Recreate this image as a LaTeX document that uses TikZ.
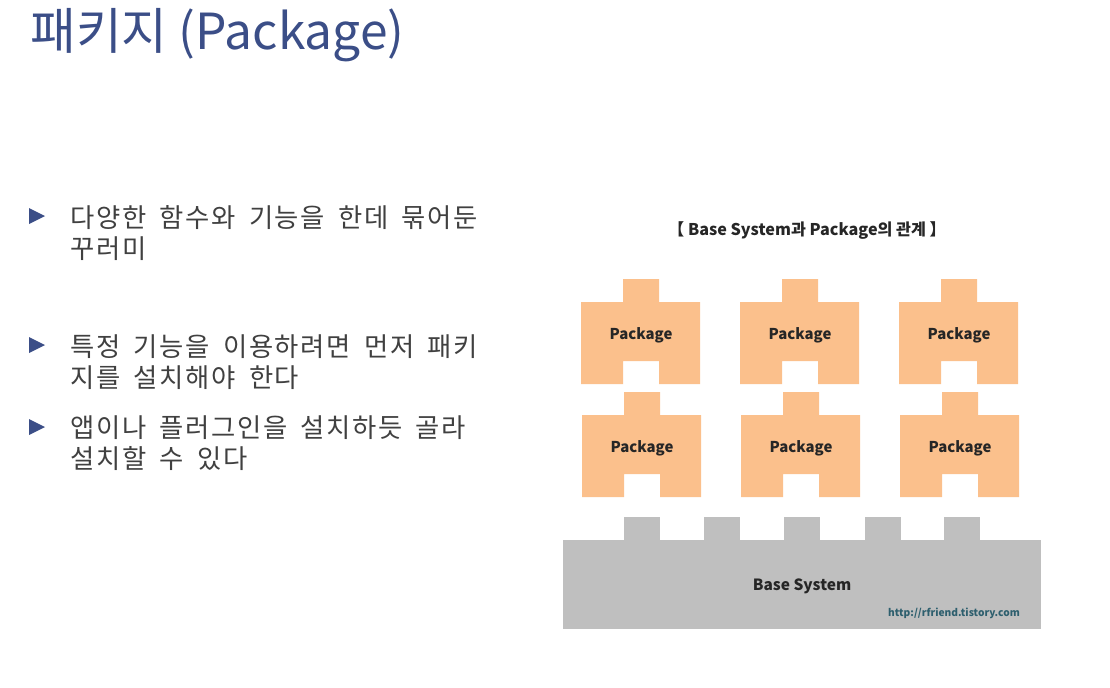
\documentclass[tikz,border=0pt]{standalone}
\usepackage{fontspec}
\setmainfont{Noto Sans CJK KR}
\newfontfamily\itemfont[WordSpace=1.8, LetterSpace=6]{Noto Sans CJK KR}
\usepackage{xcolor}
\usetikzlibrary{positioning}
\definecolor{titleblue}{RGB}{59,78,135}
\definecolor{bodygray}{RGB}{64,64,64}
\definecolor{pkgorange}{RGB}{251,192,140}
\definecolor{basegray}{RGB}{191,191,191}
\definecolor{urlteal}{RGB}{46,95,110}

\begin{document}
\begin{tikzpicture}[x=0.02cm, y=-0.02cm,
  pkgshape/.style={fill=pkgorange, draw=none},
  baseshape/.style={fill=basegray, draw=none},
  pkglabel/.style={font=\fontsize{8.5}{10}\selectfont\bfseries, text=black!85},
  bulletmark/.style={fill=titleblue, draw=none},
  bullettext/.style={font=\itemfont\fontsize{15}{17.6}\selectfont,
    text=bodygray, align=left, anchor=north west, inner sep=0pt}]
  \useasboundingbox (0,0) rectangle (1110,687);

  % slide title
  \node[anchor=west, inner sep=0pt, text=titleblue,
    font=\fontsize{28.3}{31}\selectfont] (title) at (30,35) {패키지 (Package)};

  % bullets
  \foreach \yb in {216,345,427}
    \fill[bulletmark] (29,\yb-8) -- (45,\yb) -- (29,\yb+8) -- cycle;
  \node[bullettext] (item1) at (70,205) {다양한 함수와 기능을 한데 묶어둔\\꾸러미};
  \node[bullettext] (item2) at (70,334) {특정 기능을 이용하려면 먼저 패키\\지를 설치해야 한다};
  \node[bullettext] (item3) at (70,415) {앱이나 플러그인을 설치하듯 골라\\설치할 수 있다};

  % diagram caption
  \node[font=\fontsize{9.2}{11}\selectfont\bfseries, text=black!85] (caption)
    at (807,231) {【 Base System과 Package의 관계 】};

  % package blocks, two rows of three
  \foreach \row/\top/\dx in {1/302/0, 2/415/1}
    \foreach \i in {0,1,2} {
      \begin{scope}[shift={(581+159*\i+\dx,\top)}]
        \fill[pkgshape] (0,0) -- (42,0) -- (42,-23) -- (78,-23) -- (78,0)
          -- (119,0) -- (119,82) -- (78,82) -- (78,59) -- (42,59)
          -- (42,82) -- (0,82) -- cycle;
        \node[pkglabel] (pkg\row\i) at (60,33) {Package};
      \end{scope}
    }

  % base system with its sockets
  \fill[baseshape] (563,540) rectangle (1041,629);
  \foreach \xs in {624,704,784,865,944}
    \fill[baseshape] (\xs,517) rectangle (\xs+36,541);
  \node[pkglabel, font=\fontsize{8.8}{10}\selectfont\bfseries] (base) at (802,586) {Base System};
  \node[font=\fontsize{5.8}{7}\selectfont\bfseries, text=urlteal] (url) at (954,613)
    {http://rfriend.tistory.com};
\end{tikzpicture}
\end{document}
